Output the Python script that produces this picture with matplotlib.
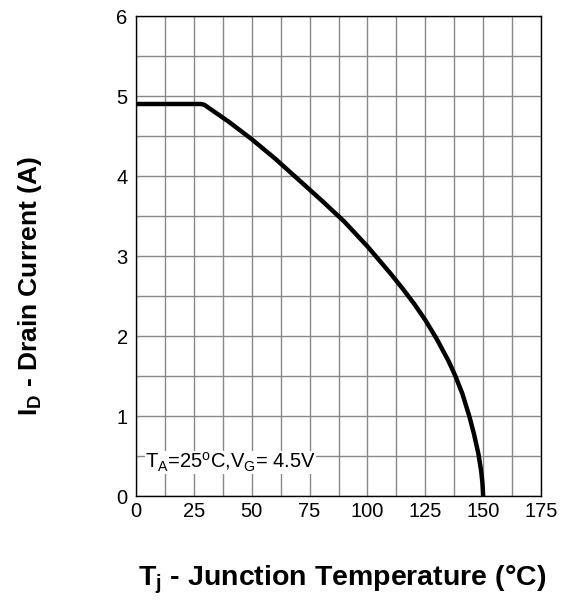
import matplotlib
matplotlib.use('Agg')
import matplotlib.pyplot as plt
import numpy as np

plt.rcParams['font.family'] = ['Liberation Sans', 'DejaVu Sans']
plt.rcParams['mathtext.fontset'] = 'custom'
plt.rcParams['mathtext.rm'] = 'Liberation Sans'
plt.rcParams['mathtext.bf'] = 'Liberation Sans:bold'

# junction temperature (C) vs drain current (A)
temp = [0, 28, 29.5, 31, 35, 40, 50, 60, 70, 80, 90, 100, 110, 115, 120,
        125, 130, 135, 138, 141, 144, 146, 148, 149.2, 149.7, 150]
current = [4.9, 4.9, 4.89, 4.86, 4.78, 4.68, 4.46, 4.22, 3.96, 3.70, 3.43,
           3.12, 2.78, 2.60, 2.41, 2.20, 1.96, 1.69, 1.50, 1.28, 1.00, 0.78,
           0.52, 0.30, 0.16, 0]

xticks = [0, 25, 50, 75, 100, 125, 150, 175]
yticks = [0, 1, 2, 3, 4, 5, 6]

fig = plt.figure(figsize=(5.64, 6.03), dpi=100)
ax = fig.add_axes([136 / 564, 107 / 603, 405 / 564, 480 / 603])

ax.set_xlim(0, 175)
ax.set_ylim(0, 6)
ax.set_xticks(xticks)
ax.set_yticks(yticks)
ax.set_xticks(np.arange(0, 176, 12.5), minor=True)
ax.set_yticks(np.arange(0, 6.01, 0.5), minor=True)
ax.grid(True, which='both', color='#888888', lw=1.0)
ax.set_axisbelow(True)
ax.tick_params(which='both', length=0, labelsize=14.5, colors='black')
ax.tick_params(axis='x', pad=4)
ax.tick_params(axis='y', pad=6)

for s in ax.spines.values():
    s.set_color('black')
    s.set_linewidth(1.0)

ax.plot(temp, current, color='black', lw=3.2, solid_capstyle='butt',
        solid_joinstyle='round')

ax.text(3.9, 0.34, r'T$_\mathregular{A}$=25$^\mathregular{o}$C,V$_\mathregular{G}$= 4.5V',
        fontsize=14.5, va='baseline', ha='left',
        bbox=dict(facecolor='white', edgecolor='none', pad=0))

fig.text(342 / 564, 1 - 580 / 603, r'T$_\mathbf{j}$ - Junction Temperature (°C)',
         fontsize=20.5, fontweight='bold', ha='center', va='center')
fig.text(30 / 564, 1 - 286 / 603, r'I$_\mathbf{D}$ - Drain Current (A)',
         fontsize=19, fontweight='bold', ha='center', va='center',
         rotation=90)

fig.savefig('out.png', dpi=100)
